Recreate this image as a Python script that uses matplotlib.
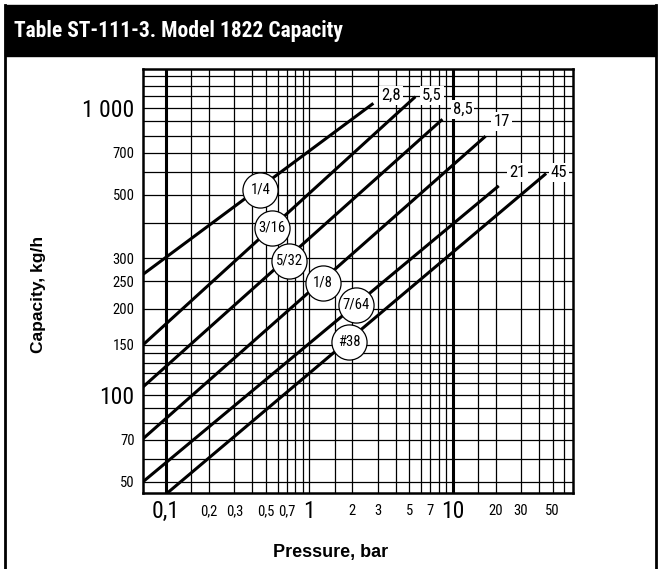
import matplotlib
matplotlib.use("Agg")
import matplotlib.pyplot as plt
from matplotlib import font_manager
from matplotlib.ticker import FixedLocator, NullFormatter
from matplotlib.patches import Rectangle
from matplotlib.lines import Line2D

# ---------------- data ----------------
series_names = ["1/4", "3/16", "5/32", "1/8", "7/64", "#38"]
max_pressure_labels = ["2,8", "5,5", "8,5", "17", "21", "45"]
pressure_start = [0.069, 0.069, 0.069, 0.069, 0.069, 0.1]
capacity_start = [264, 150, 107, 70.6, 50, 45.3]
pressure_end = [2.8, 5.5, 8.5, 17, 21, 45]
capacity_end = [1041, 1098, 916, 800, 537, 593]

# circle label positions (pressure, capacity)
circle_p = [0.455, 0.549, 0.725, 1.24, 2.12, 1.90]
circle_c = [521, 383, 294, 247, 207, 153]

# max-pressure label positions
endlab_p = [3.71, 7.17, 11.74, 21.97, 28.4, 55.4]
endlab_c = [1113, 1113, 992, 898, 600, 600]

x_grid = [0.1, 0.15, 0.2, 0.3, 0.4, 0.5, 0.6, 0.7, 0.8, 0.9,
          1, 1.5, 2, 3, 4, 5, 6, 7, 8, 9,
          10, 15, 20, 30, 40, 50, 60]
x_ticks = [0.1, 0.2, 0.3, 0.5, 0.7, 1, 2, 3, 5, 7, 10, 20, 30, 50]
x_ticklabels = ["0,1", "0,2", "0,3", "0,5", "0,7", "1", "2", "3", "5", "7",
                "10", "20", "30", "50"]
x_big = ["0,1", "1", "10"]

y_grid = [50, 60, 70, 80, 90, 100, 110, 120, 130, 140, 150, 200, 250, 300,
          400, 500, 600, 700, 800, 900, 1000, 1100, 1200, 1300]
y_ticks = [50, 70, 100, 150, 200, 250, 300, 500, 700, 1000]
y_ticklabels = ["50", "70", "100", "150", "200", "250", "300", "500", "700", "1 000"]
y_big = ["100", "1 000"]

thick_x = [0.1, 10]

# ---------------- fonts ----------------
entries = font_manager.fontManager.ttflist
avail = {f.name for f in entries}
narrow_family = None
narrow_stretch = "normal"
for cand in ["Liberation Sans Narrow", "Arial Narrow", "Roboto Condensed",
             "Open Sans Condensed", "Nimbus Sans Narrow"]:
    if cand in avail:
        narrow_family = cand
        break
if narrow_family is None:
    for f in entries:
        n = f.name.lower()
        if "narrow" in n or "condensed" in n:
            narrow_family = f.name
            break
if narrow_family is None:
    cond = [f for f in entries if f.name == "DejaVu Sans" and str(f.stretch) in ("condensed", "semi-condensed", "500", "400", "300")]
    if any(str(f.stretch) != "normal" for f in cond):
        narrow_family = "DejaVu Sans"
        narrow_stretch = "condensed"
if narrow_family is None:
    narrow_family = "Liberation Sans"

NF = dict(family=[narrow_family, "DejaVu Sans"], stretch=narrow_stretch)
plt.rcParams["font.family"] = [narrow_family, "DejaVu Sans"]
plt.rcParams["font.stretch"] = narrow_stretch

# ---------------- figure ----------------
W, H = 661, 569
fig = plt.figure(figsize=(W / 100, H / 100), dpi=100)

def fx(px):
    return px / W

def fy(py):
    return 1 - py / H

# title bar and border
fig.patches.append(Rectangle((fx(5), fy(56)), fx(651), 51 / H, transform=fig.transFigure,
                             facecolor="black", edgecolor="black", zorder=0))
fig.lines.append(Line2D([fx(5), fx(5)], [fy(5), 0], transform=fig.transFigure, color="black", lw=2))
fig.lines.append(Line2D([fx(656), fx(656)], [fy(5), 0], transform=fig.transFigure, color="black", lw=2))
fig.text(fx(14), fy(31), "Table ST-111-3. Model 1822 Capacity", color="white",
         fontsize=15.5, fontweight="bold", va="center", ha="left", **NF)

ax = fig.add_axes([fx(143), fy(492.7), fx(573) - fx(143), (492.7 - 69.3) / H])
ax.set_xscale("log")
ax.set_yscale("log")
ax.set_xlim(0.069, 69.3)
ax.set_ylim(45.8, 1368)

ax.xaxis.set_major_locator(FixedLocator(x_ticks))
ax.xaxis.set_minor_locator(FixedLocator(x_grid))
ax.yaxis.set_major_locator(FixedLocator(y_ticks))
ax.yaxis.set_minor_locator(FixedLocator(y_grid))
ax.xaxis.set_minor_formatter(NullFormatter())
ax.yaxis.set_minor_formatter(NullFormatter())
ax.set_xticklabels(x_ticklabels)
ax.set_yticklabels(y_ticklabels)
ax.tick_params(which="both", length=0)
ax.tick_params(axis="x", pad=13.5)
ax.tick_params(axis="y", pad=6)
for lab in ax.get_xticklabels():
    lab.set_verticalalignment("center")
    lab.set_fontsize(17 if lab.get_text() in x_big else 10.5)
for lab in ax.get_yticklabels():
    lab.set_fontsize(17 if lab.get_text() in y_big else 10.5)

for v in x_grid:
    ax.axvline(v, color="black", lw=0.9, zorder=1)
for v in y_grid:
    ax.axhline(v, color="black", lw=0.9, zorder=1)
for v in thick_x:
    ax.axvline(v, color="black", lw=2.2, zorder=1)
for s in ax.spines.values():
    s.set_linewidth(1.8)

for i in range(len(series_names)):
    ax.plot([pressure_start[i], pressure_end[i]], [capacity_start[i], capacity_end[i]],
            color="black", lw=2.2, solid_capstyle="butt", zorder=3)

for i in range(len(series_names)):
    ax.scatter([circle_p[i]], [circle_c[i]], s=640, facecolor="white", edgecolor="black",
               linewidths=0.9, zorder=4 + i * 0.01)
    ax.text(circle_p[i], circle_c[i], series_names[i], ha="center", va="center",
            fontsize=10.5, zorder=5)

for i in range(len(max_pressure_labels)):
    ax.text(endlab_p[i], endlab_c[i], max_pressure_labels[i], ha="center", va="center",
            fontsize=12, zorder=5,
            bbox=dict(facecolor="white", edgecolor="none", pad=1.5))

fig.text(fx(38), fy(294), "Capacity, kg/h", rotation=90, ha="center", va="center",
         fontsize=12.5, fontweight="bold", family=["Liberation Sans", "DejaVu Sans"])
fig.text(fx(331), fy(553), "Pressure, bar", ha="center", va="center",
         fontsize=13, fontweight="bold", family=["Liberation Sans", "DejaVu Sans"])

fig.savefig("out.png", dpi=100)
